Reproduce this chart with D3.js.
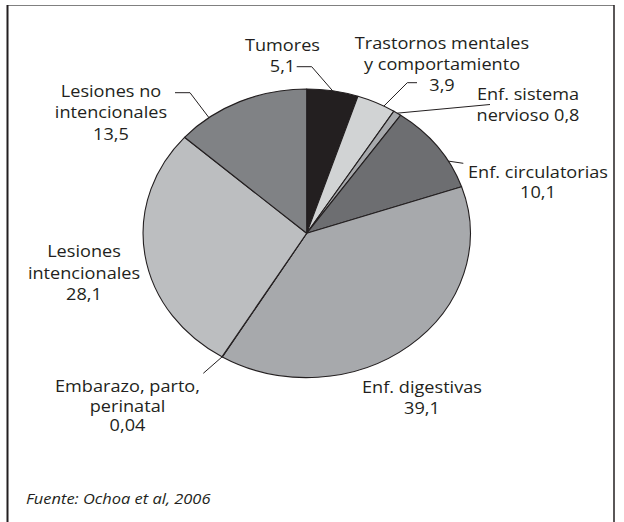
<!DOCTYPE html>
<html>
<head>
<meta charset="utf-8">
<script src="https://cdn.jsdelivr.net/npm/d3@7"></script>
<style>
  body { margin: 0; background: #fff; }
  text { font-family: "Open Sans", "Noto Sans", sans-serif; fill: #231f20; font-weight: 500; }
</style>
</head>
<body>
<div id="chart"></div>
<script>
// data (percent)
var categories = ["Tumores", "Trastornos mentales y comportamiento", "Enf. sistema nervioso",
                  "Enf. circulatorias", "Enf. digestivas", "Embarazo, parto, perinatal",
                  "Lesiones intencionales", "Lesiones no intencionales"];
var values = [5.1, 3.9, 0.8, 10.1, 39.1, 0.04, 28.1, 13.5];
var valueLabels = ["5,1", "3,9", "0,8", "10,1", "39,1", "0,04", "28,1", "13,5"];
var colors = ["#231f20", "#d1d3d4", "#a7a9ac", "#6d6e71", "#a7a9ac", "#bcbec0", "#bcbec0", "#808285"];

// label text lines, one entry per slice
var labelLines = [
  ["Tumores", "5,1"],
  ["Trastornos mentales", "y comportamiento", "3,9"],
  ["Enf. sistema", "nervioso 0,8"],
  ["Enf. circulatorias", "10,1"],
  ["Enf. digestivas", "39,1"],
  ["Embarazo, parto,", "perinatal", "0,04"],
  ["Lesiones", "intencionales", "28,1"],
  ["Lesiones no", "intencionales", "13,5"]
];

// layout: label centre x and baselines (page px), leader position along slice and its bends
var labelLayout = [
  {x: 282.5, y: [51, 72], t: 0.5, leader: [[311.7, 66.7], [296.7, 66.7]]},
  {x: 442, y: [49, 70, 91], t: 0.71, leader: [[407.3, 82.7], [417, 82.7]]},
  {x: 528, y: [100, 121], t: 0.5, leader: [[490, 104.5]]},
  {x: 538, y: [178.5, 198.5], t: 0.69, leader: [[463.3, 163.3]]},
  {x: 422, y: [393.5, 414], t: 0.5, leader: null},
  {x: 127.5, y: [392.5, 412, 431.5], t: 0.5, leader: [[203.3, 373.3]]},
  {x: 84, y: [257.5, 279, 300.5], t: 0.5, leader: null},
  {x: 111, y: [97.5, 118.5, 140], t: 0.24, leader: [[190, 92.7], [175, 92.7]]}
];

var width = 624, height = 522;
var sx = 1.134;              // the picture is stretched horizontally
var cx = 306.7, cy = 233.3, radius = 144.3;

var svg = d3.select("#chart").append("svg")
    .attr("width", width)
    .attr("height", height);

// frame
svg.append("line")
    .attr("x1", 7).attr("x2", 614).attr("y1", 5.5).attr("y2", 5.5)
    .style("stroke", "#808080").style("stroke-width", 1.2);
svg.append("line")
    .attr("x1", 7.5).attr("x2", 7.5).attr("y1", 5).attr("y2", height)
    .style("stroke", "#231f20").style("stroke-width", 2);
svg.append("line")
    .attr("x1", 614).attr("x2", 614).attr("y1", 5).attr("y2", height)
    .style("stroke", "#231f20").style("stroke-width", 1.5);

var stretch = svg.append("g")
    .attr("transform", "scale(" + sx + ",1)");

var pie = d3.pie().sort(null).value(function(d) { return d; });
var arcs = pie(values);
var arc = d3.arc().innerRadius(0).outerRadius(radius);

var pieG = stretch.append("g")
    .attr("transform", "translate(" + (cx / sx) + "," + cy + ")");

pieG.selectAll("path")
    .data(arcs)
  .enter().append("path")
    .attr("d", arc)
    .style("fill", function(d, i) { return colors[i]; })
    .style("stroke", "#231f20")
    .style("stroke-width", 1.1)
    .style("stroke-linejoin", "round")
    .attr("vector-effect", "non-scaling-stroke");

// leader lines
var line = d3.line();
arcs.forEach(function(d, i) {
  var lay = labelLayout[i];
  if (!lay.leader) return;
  var a = d.startAngle + lay.t * (d.endAngle - d.startAngle);
  var pts = [[cx / sx + radius * Math.sin(a), cy - radius * Math.cos(a)]];
  lay.leader.forEach(function(p) { pts.push([p[0] / sx, p[1]]); });
  stretch.append("path")
    .attr("d", line(pts))
    .style("fill", "none")
    .style("stroke", "#231f20")
    .style("stroke-width", 1)
    .attr("vector-effect", "non-scaling-stroke");
});

// labels
labelLines.forEach(function(lines, i) {
  var lay = labelLayout[i];
  var t = stretch.append("text")
    .attr("text-anchor", "middle")
    .style("font-size", "16px");
  lines.forEach(function(s, j) {
    t.append("tspan")
      .attr("x", lay.x / sx)
      .attr("y", lay.y[j])
      .text(s);
  });
});

stretch.append("text")
    .attr("x", 26 / sx)
    .attr("y", 504)
    .style("font-size", "14.5px")
    .style("font-style", "italic")
    .text("Fuente: Ochoa et al, 2006");
</script>
</body>
</html>
